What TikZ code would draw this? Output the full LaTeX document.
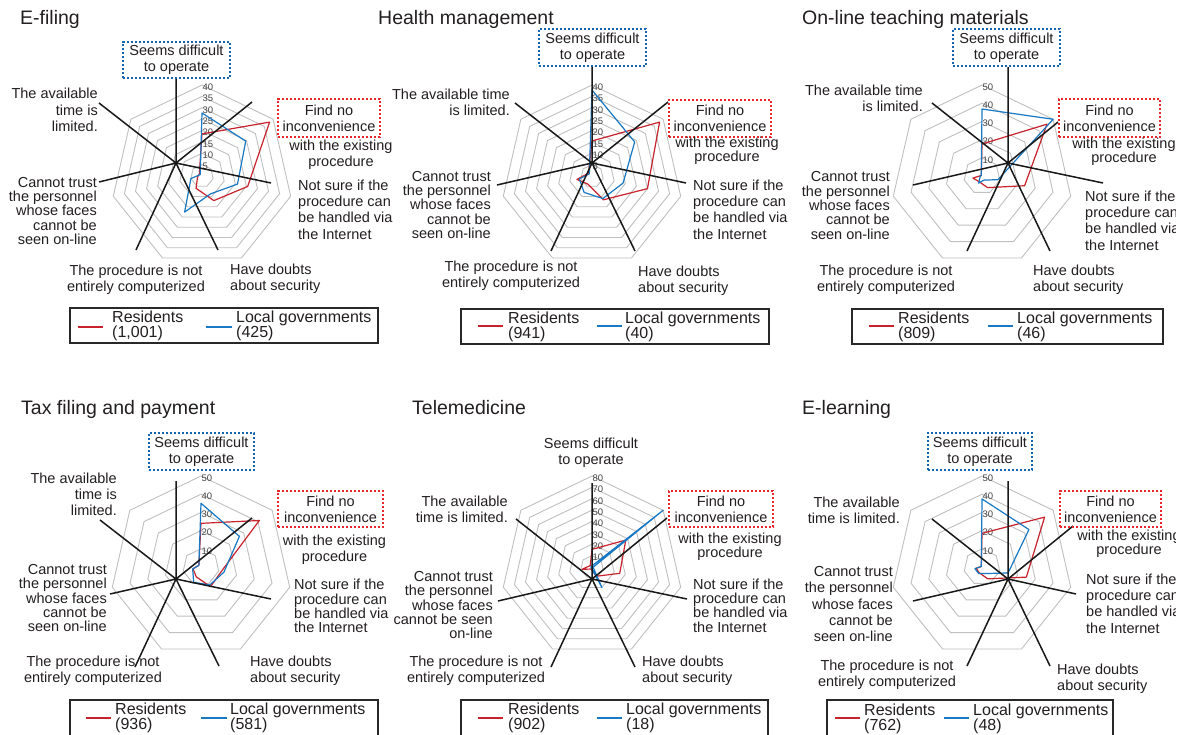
\documentclass[tikz,border=0pt]{standalone}
\usepackage{fontspec}
\setmainfont{Liberation Sans}
\definecolor{gridc}{RGB}{192,192,192}
\definecolor{tickc}{RGB}{70,70,70}
\definecolor{redc}{RGB}{200,35,45}
\definecolor{bluec}{RGB}{25,120,195}
\definecolor{rboxc}{RGB}{232,38,44}
\definecolor{bboxc}{RGB}{20,100,175}
\definecolor{txtc}{RGB}{35,31,32}
\definecolor{legc}{RGB}{40,40,40}
\tikzset{
  gridln/.style={draw=gridc, line width=0.9pt},
  tick/.style={font=\fontsize{9.5}{10}\selectfont, text=tickc, inner sep=0pt},
  redln/.style={draw=redc, line width=1.2pt, line join=round},
  blueln/.style={draw=bluec, line width=1.2pt, line join=round},
  spoke/.style={draw=black!90, line width=1.5pt},
  lbl/.style={font=\fontsize{14.5}{16.3}\selectfont, text=txtc, inner sep=0pt},
  lblt/.style={font=\fontsize{14.5}{14.3}\selectfont, text=txtc, inner sep=0pt},
  ttl/.style={font=\fontsize{19.5}{22}\selectfont, text=txtc, inner sep=0pt, anchor=base west},
  leg/.style={font=\fontsize{16}{15}\selectfont, text=txtc, inner sep=0pt, anchor=west, align=left},
  legbox/.style={draw=legc, line width=1.4pt},
  bbox/.style={lbl, draw=bboxc, line width=2pt, dash pattern=on 2.2pt off 1.8pt, align=center},
  rbox/.style={lbl, draw=rboxc, line width=2pt, dash pattern=on 2.2pt off 1.8pt, align=center}
}
\newcommand\radargrid[5]{%
  \foreach \i in {1,...,#4}{%
    \foreach \k in {0,...,6}{%
      \coordinate (#1-\i-\k) at ({#2+91*\i/#4*cos(-90+\k*360/7)},{#3+91*\i/#4*sin(-90+\k*360/7)});
    }%
    \draw[gridln] (#1-\i-0) -- (#1-\i-1) -- (#1-\i-2) -- (#1-\i-3) -- (#1-\i-4) -- (#1-\i-5) -- (#1-\i-6) -- cycle;
  }%
  \foreach \i in {1,...,#4}{%
    \pgfmathtruncatemacro\tv{\i*#5/#4}%
    \node[tick, anchor=west] (#1tk\i) at ({#2+0.5},{#3-91*\i/#4+2}) {\tv};
  }%
}
\newcommand\radardata[6]{%
  \foreach \v [count=\k from 0] in {#5}{%
    \coordinate (#1\k) at ({#2+91*\v/#4*cos(-90+\k*360/7)},{#3+91*\v/#4*sin(-90+\k*360/7)});
  }%
  \draw[#6] (#10) -- (#11) -- (#12) -- (#13) -- (#14) -- (#15) -- (#16) -- cycle;
}
\newcommand\spokes[9]{%
  \coordinate (#1c) at (#2);
  \coordinate (#1t) at (#3);
  \coordinate (#1ur) at (#4);
  \coordinate (#1r) at (#5);
  \coordinate (#1lr) at (#6);
  \coordinate (#1ll) at (#7);
  \coordinate (#1l) at (#8);
  \coordinate (#1ul) at (#9);
  \draw[spoke] (#1c) -- (#1t) (#1c) -- (#1ur) (#1c) -- (#1r) (#1c) -- (#1lr) (#1c) -- (#1ll) (#1c) -- (#1l) (#1c) -- (#1ul);
}
\begin{document}
\begin{tikzpicture}[x=1pt,y=-1pt]
\useasboundingbox (0,0) rectangle (1186,734);
\fill[white] (0,0) rectangle (1186,734);
\begin{scope}
\clip (0,0) rectangle (1175,734);

% ---------- grids ----------
\radargrid{g1}{202}{176}{8}{40}
\radargrid{g2}{592}{176}{8}{40}
\radargrid{g3}{982}{176}{5}{50}
\radargrid{g4}{201}{567}{5}{50}
\radargrid{g5}{592}{567}{8}{80}
\radargrid{g6}{982}{567}{5}{50}

% ---------- data ----------
\radardata{r1p}{202}{176}{40}{18.5,38,20.6,12,6,2,1.5}{redln}
\radardata{b1p}{202}{176}{40}{27.7,24.6,16,8.7,17.6,5,1}{blueln}
\radardata{r2p}{592}{176}{40}{15.4,38,25,11.6,4,6.8,2}{redln}
\radardata{b2p}{592}{176}{40}{37.8,24,14,11,8,5.7,1.5}{blueln}
\radardata{r3p}{982}{176}{50}{17.6,45.7,24,7.1,3.5,5.1,0.5}{redln}
\radardata{b3p}{982}{176}{50}{36.8,50,9,2.5,4.3,1,0.5}{blueln}
\radardata{r4p}{201}{567}{50}{24,41,11.4,12,6,4.5,1.5}{redln}
\radardata{b4p}{201}{567}{50}{35,27,12.9,11,9.3,4.7,1.5}{blueln}
\radardata{r5p}{592}{567}{80}{15.5,38,25,9,2,9,2}{redln}
\radardata{b5p}{592}{567}{80}{1,80,1,20,1,1,1}{blueln}
\radardata{r6p}{982}{567}{50}{18.5,44,25,7.2,3.5,3.3,0.5}{redln}
\radardata{b6p}{982}{567}{50}{37.4,33,14.7,4,4,4,0.5}{blueln}

% ---------- spokes ----------
\spokes{s1}{176,163}{176,79}{252,102}{271,183}{218,250}{136,250}{99,182}{99,103}
\spokes{s2}{592,163}{592,67}{668,102}{686,183}{635,251}{551,251}{497,185}{515,103}
\spokes{s3}{1008,163}{1008,67}{1058,122}{1103,183}{1050,251}{967,251}{913,185}{932,103}
\spokes{s4}{176,579}{176,481}{252,518}{271,599}{219,666}{135,667}{110,594}{100,520}
\spokes{s5}{592,579}{592,483}{667,518}{687,599}{635,667}{551,667}{498,601}{516,519}
\spokes{s6}{1008,579}{1008,481}{1073,526}{1076,594}{1050,666}{967,666}{913,601}{932,519}

% ---------- chart 1 ----------
\node[ttl] (T1) at (20,24) {E-filing};
\node[bbox, minimum width=107pt, minimum height=36pt] (A1t) at (176.5,60) {Seems difficult\\to operate};
\node[lbl, align=right, anchor=east] (A1ul) at (98,110) {The available\\time is\\limited.};
\node[rbox, minimum width=102pt, minimum height=38pt] (A1ur) at (329,118) {Find no\\inconvenience};
\node[lbl, align=center] (A1urb) at (341,155) {with the existing\\procedure};
\node[lbl, align=left, anchor=west] (A1r) at (298,209.5) {Not sure if the\\procedure can\\be handled via\\the Internet};
\node[lbl, align=left, anchor=west] (A1lr) at (230,278.5) {Have doubts\\about security};
\node[lbl, align=center] (A1ll) at (136,280) {The procedure is not\\entirely computerized};
\node[lblt, align=right, anchor=east] (A1l) at (97,211) {Cannot trust\\the personnel\\whose faces\\cannot be\hspace*{4pt}\\seen on-line};
\draw[legbox] (70,308) rectangle (378,343);
\draw[redln] (78,327) -- (103,327);
\node[leg] (L1r) at (112,326) {Residents\\(1,001)};
\draw[blueln] (206,327) -- (232,327);
\node[leg] (L1b) at (236,326) {Local governments\\(425)};

% ---------- chart 2 ----------
\node[ttl] (T2) at (378,24) {Health management};
\node[bbox, minimum width=107pt, minimum height=37pt] (A2t) at (592.5,47.5) {Seems difficult\\to operate};
\node[lbl, align=right, anchor=east] (A2ul) at (510,102) {The available time\\is limited.};
\node[rbox, minimum width=102pt, minimum height=37pt] (A2ur) at (720,118.5) {Find no\\inconvenience};
\node[lblt, align=center] (A2urb) at (727,151) {with the existing\\procedure};
\node[lbl, align=left, anchor=west] (A2r) at (693,209.5) {Not sure if the\\procedure can\\be handled via\\the Internet};
\node[lbl, align=left, anchor=west] (A2lr) at (638,280.5) {Have doubts\\about security};
\node[lbl, align=center] (A2ll) at (511,275.5) {The procedure is not\\entirely computerized};
\node[lblt, align=right, anchor=east] (A2l) at (491,205) {Cannot trust\\the personnel\\whose faces\\cannot be\hspace*{4pt}\\seen on-line};
\draw[legbox] (461,309) rectangle (769,344);
\draw[redln] (478,326) -- (503,326);
\node[leg] (L2r) at (508,327) {Residents\\(941)};
\draw[blueln] (597,326) -- (622,326);
\node[leg] (L2b) at (625,327) {Local governments\\(40)};

% ---------- chart 3 ----------
\node[ttl] (T3) at (802,24) {On-line teaching materials};
\node[bbox, minimum width=107pt, minimum height=37pt] (A3t) at (1006.5,47.5) {Seems difficult\\to operate};
\node[lbl, align=right, anchor=east] (A3ul) at (923,98) {The available time\\is limited.};
\node[rbox, minimum width=101pt, minimum height=38pt] (A3ur) at (1109.5,118) {Find no\\inconvenience};
\node[lblt, align=center] (A3urb) at (1124,151.5) {with the existing\\procedure};
\node[lbl, align=left, anchor=west] (A3r) at (1085,220.5) {Not sure if the\\procedure can\\be handled via\\the Internet};
\node[lbl, align=left, anchor=west] (A3lr) at (1033,280) {Have doubts\\about security};
\node[lbl, align=center] (A3ll) at (886,280) {The procedure is not\\entirely computerized};
\node[lblt, align=right, anchor=east] (A3l) at (890,205.5) {Cannot trust\\the personnel\\whose faces\\cannot be\\seen on-line};
\draw[legbox] (852,309) rectangle (1163,344);
\draw[redln] (869,326) -- (894,326);
\node[leg] (L3r) at (898,327) {Residents\\(809)};
\draw[blueln] (988,326) -- (1013,326);
\node[leg] (L3b) at (1017,327) {Local governments\\(46)};

% ---------- chart 4 ----------
\node[ttl] (T4) at (21,414) {Tax filing and payment};
\node[bbox, minimum width=105pt, minimum height=37pt] (A4t) at (201.5,451.5) {Seems difficult\\to operate};
\node[lbl, align=right, anchor=east] (A4ul) at (117,494.5) {The available\\time is\\limited.};
\node[rbox, minimum width=105pt, minimum height=36pt] (A4ur) at (330.5,509) {Find no\\inconvenience};
\node[lbl, align=center] (A4urb) at (334.5,550) {with the existing\\procedure};
\node[lblt, align=left, anchor=west] (A4r) at (294,606) {Not sure if the\\procedure can\\be handled via\\the Internet};
\node[lbl, align=left, anchor=west] (A4lr) at (250,671) {Have doubts\\about security};
\node[lbl, align=center] (A4ll) at (93,671) {The procedure is not\\entirely computerized};
\node[lblt, align=right, anchor=east] (A4l) at (107,598) {Cannot trust\\the personnel\\whose faces\\cannot be\\seen on-line};
\draw[legbox] (70,700) rectangle (378,745);
\draw[redln] (86,718) -- (111,718);
\node[leg] (L4r) at (115,717.5) {Residents\\(936)};
\draw[blueln] (201,718) -- (227,718);
\node[leg] (L4b) at (230,717.5) {Local governments\\(581)};

% ---------- chart 5 ----------
\node[ttl] (T5) at (412,414) {Telemedicine};
\node[lbl, align=center] (A5t) at (591,452.5) {Seems difficult\\to operate};
\node[lbl, align=right, anchor=east] (A5ul) at (508,509.5) {The available\\time is limited.};
\node[rbox, minimum width=104pt, minimum height=36pt] (A5ur) at (721,509) {Find no\\inconvenience};
\node[lblt, align=center] (A5urb) at (730,546.5) {with the existing\\procedure};
\node[lblt, align=left, anchor=west] (A5r) at (693,605.5) {Not sure if the\\procedure can\\be handled via\\the Internet};
\node[lbl, align=left, anchor=west] (A5lr) at (642,670.5) {Have doubts\\about security};
\node[lbl, align=center] (A5ll) at (476,671) {The procedure is not\\entirely computerized};
\node[lblt, align=right, anchor=east] (A5l) at (493,605) {Cannot trust\\the personnel\\whose faces\\cannot be seen\\on-line};
\draw[legbox] (461,700) rectangle (768,745);
\draw[redln] (478,718) -- (503,718);
\node[leg] (L5r) at (508,717.5) {Residents\\(902)};
\draw[blueln] (597,718) -- (622,718);
\node[leg] (L5b) at (626,717.5) {Local governments\\(18)};

% ---------- chart 6 ----------
\node[ttl] (T6) at (802,414) {E-learning};
\node[bbox, minimum width=104pt, minimum height=37pt] (A6t) at (980,451.5) {Seems difficult\\to operate};
\node[lbl, align=right, anchor=east] (A6ul) at (900,510.5) {The available\\time is limited.};
\node[rbox, minimum width=101pt, minimum height=36pt] (A6ur) at (1110.5,509) {Find no\\inconvenience};
\node[lblt, align=center] (A6urb) at (1129,544) {with the existing\\procedure};
\node[lbl, align=left, anchor=west] (A6r) at (1086,603.5) {Not sure if the\\procedure can\\be handled via\\the Internet};
\node[lbl, align=left, anchor=west] (A6lr) at (1057,678.5) {Have doubts\\about security};
\node[lbl, align=center] (A6ll) at (887,674.5) {The procedure is not\\entirely computerized};
\node[lbl, align=right, anchor=east] (A6l) at (893,604) {Cannot trust\\the personnel\\whose faces\\cannot be\\seen on-line};
\draw[legbox] (827,700) rectangle (1113,745);
\draw[redln] (835,718) -- (860,718);
\node[leg] (L6r) at (864,718.5) {Residents\\(762)};
\draw[blueln] (944,718) -- (969,718);
\node[leg] (L6b) at (973,718.5) {Local governments\\(48)};
\end{scope}
\end{tikzpicture}
\end{document}
